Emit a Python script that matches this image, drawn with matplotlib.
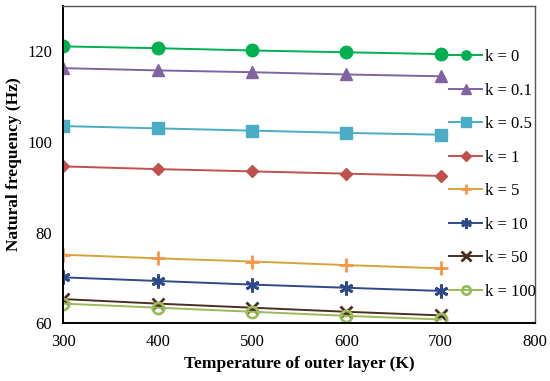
import numpy as np
import matplotlib
matplotlib.use("Agg")
from matplotlib import pyplot as plt

temps = [300, 400, 500, 600, 700]
k_labels = ["k = 0", "k = 0.1", "k = 0.5", "k = 1", "k = 5", "k = 10", "k = 50", "k = 100"]
freq_k0 = [121.1, 120.7, 120.2, 119.8, 119.4]
freq_k01 = [116.3, 115.8, 115.4, 114.9, 114.5]
freq_k05 = [103.5, 103.0, 102.5, 102.0, 101.6]
freq_k1 = [94.6, 94.0, 93.5, 93.0, 92.5]
freq_k5 = [75.1, 74.3, 73.6, 72.8, 72.1]
freq_k10 = [70.1, 69.3, 68.5, 67.8, 67.1]
freq_k50 = [65.3, 64.3, 63.4, 62.5, 61.7]
freq_k100 = [64.3, 63.4, 62.5, 61.6, 60.8]

series = [freq_k0, freq_k01, freq_k05, freq_k1, freq_k5, freq_k10, freq_k50, freq_k100]
line_colors = ["#00B050", "#8064A2", "#4BACC6", "#C0504D", "#D4A63A", "#2E4A8A", "#4A2F22", "#9BBB59"]
marker_colors = ["#00B050", "#8064A2", "#4BACC6", "#C0504D", "#F79646", "#2E4A8A", "#4A2F22", "#9BBB59"]
markers = ["o", "^", "s", "D", "+", (6, 2, 0), "x", "o"]
msizes = [9, 9, 9, 6.5, 10, 10, 9, 8]

plt.rcParams["font.family"] = ["Liberation Serif", "DejaVu Serif"]

fig = plt.figure(figsize=(5.5, 3.81), dpi=100)
ax = fig.add_axes([0.115, 0.152, 0.858, 0.832])

for i, vals in enumerate(series):
    face = "none" if i == 7 else marker_colors[i]
    ax.plot(temps, vals, color=line_colors[i], lw=1.4, marker=markers[i],
            ms=msizes[i], mfc=face, mec=marker_colors[i], mew=2.0 if i >= 4 else 1,
            label=k_labels[i])

ax.set_xlim(300, 800)
ax.set_ylim(60, 130)
ax.set_xticks([300, 400, 500, 600, 700, 800])
ax.set_yticks([60, 80, 100, 120])
ax.tick_params(length=0, labelsize=12, pad=8)
for s in ["top", "right"]:
    ax.spines[s].set_color("#555555")
    ax.spines[s].set_linewidth(1.0)
for s in ["left", "bottom"]:
    ax.spines[s].set_color("black")
    ax.spines[s].set_linewidth(1.4)

ax.set_xlabel("Temperature of outer layer (K)", fontsize=12.5, fontweight="bold", labelpad=4)
ax.set_ylabel("Natural frequency (Hz)", fontsize=12.5, fontweight="bold", labelpad=4)

ax.legend(loc="upper right", bbox_to_anchor=(1.015, 0.885), frameon=False, fontsize=12,
          handlelength=2.0, handletextpad=0.15, labelspacing=1.05, borderaxespad=0,
          markerscale=0.75)

fig.savefig("out.png", dpi=100)
